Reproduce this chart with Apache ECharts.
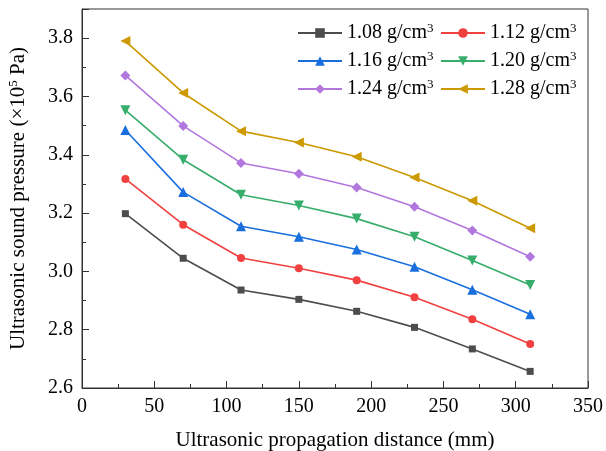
<!DOCTYPE html>
<html><head><meta charset="utf-8">
<script src="https://cdn.jsdelivr.net/npm/echarts@6/dist/echarts.min.js"></script>
<style>html,body{margin:0;padding:0;background:#fff}#c{width:606px;height:451px}</style>
</head><body><div id="c"></div>
<script>
const distances = [30, 70, 110, 150, 190, 230, 270, 310];
const densities = ['1.08', '1.12', '1.16', '1.20', '1.24', '1.28'];
const s108 = [3.198, 3.045, 2.936, 2.904, 2.863, 2.808, 2.734, 2.657];
const s112 = [3.317, 3.160, 3.046, 3.011, 2.970, 2.911, 2.836, 2.751];
const s116 = [3.485, 3.272, 3.155, 3.119, 3.075, 3.016, 2.937, 2.853];
const s120 = [3.553, 3.383, 3.263, 3.226, 3.181, 3.119, 3.037, 2.953];
const s124 = [3.672, 3.499, 3.372, 3.335, 3.288, 3.222, 3.140, 3.050];
const s128 = [3.790, 3.612, 3.481, 3.442, 3.393, 3.322, 3.242, 3.148];
const xTicks = [0, 50, 100, 150, 200, 250, 300, 350];
const yTicks = [2.6, 2.8, 3.0, 3.2, 3.4, 3.6, 3.8];

const values = [s108, s112, s116, s120, s124, s128];
const colors = ['#4d4d4d', '#f14040', '#1a6fdf', '#37ad6b', '#b177de', '#cc9900'];
const symbols = ['rect', 'circle', 'triangle', 'triangle', 'diamond', 'triangle'];
const rotates = [0, 0, 0, 180, 0, 90];
const sizes = [7, 8, 10, 10, 10, 10];
const FONT = 'Liberation Serif';
const SUP = { fontFamily: FONT, fontSize: 13, color: '#000', verticalAlign: 'top', padding: [0, 0, 9, 0] };

const series = densities.map((d, i) => ({
  name: d,
  type: 'line',
  data: distances.map((x, j) => [x, values[i][j]]),
  symbol: symbols[i],
  symbolRotate: rotates[i],
  symbolSize: sizes[i],
  showAllSymbol: true,
  lineStyle: { color: colors[i], width: 1.6 },
  itemStyle: { color: colors[i] },
  animation: false
}));

const legendBase = {
  orient: 'vertical',
  itemWidth: 44,
  itemHeight: 12,
  itemGap: 7,
  textStyle: { fontFamily: FONT, fontSize: 20, color: '#000', rich: { s: SUP } },
  formatter: n => n + ' g/cm{s|3}'
};

const chart = echarts.init(document.getElementById('c'), null, { renderer: 'canvas' });
chart.setOption({
  backgroundColor: '#fff',
  animation: false,
  grid: { left: 82, right: 18, top: 9, bottom: 63, show: true, borderColor: '#333', borderWidth: 1,
    containLabel: false, outerBoundsMode: 'none' },
  legend: [
    Object.assign({}, legendBase, { data: ['1.08', '1.16', '1.24'], left: 292, top: 17 }),
    Object.assign({}, legendBase, { data: ['1.12', '1.20', '1.28'], left: 435, top: 17 })
  ],
  xAxis: {
    type: 'value', min: 0, max: 350, interval: 50,
    name: 'Ultrasonic propagation distance (mm)', nameLocation: 'middle', nameGap: 42,
    nameTextStyle: { fontFamily: FONT, fontSize: 21, color: '#000' },
    axisLine: { lineStyle: { color: '#333', width: 1 } },
    axisTick: { inside: true, length: 7, lineStyle: { color: '#333' } },
    minorTick: { show: true, splitNumber: 2, length: 4, lineStyle: { color: '#333' } },
    axisLabel: { fontFamily: FONT, fontSize: 20, color: '#000', margin: 9,
      formatter: v => xTicks.includes(v) ? String(v) : '' },
    splitLine: { show: false }
  },
  yAxis: {
    type: 'value', min: 2.6, max: 3.9, interval: 0.2,
    name: 'Ultrasonic sound pressure (×10{s|5} Pa)', nameLocation: 'middle', nameGap: 53,
    nameTextStyle: { fontFamily: FONT, fontSize: 21, color: '#000', rich: { s: SUP } },
    axisLine: { show: true, lineStyle: { color: '#333', width: 1 } },
    axisTick: { show: true, inside: true, length: 7, lineStyle: { color: '#333' } },
    minorTick: { show: true, splitNumber: 2, length: 4, lineStyle: { color: '#333' } },
    axisLabel: { fontFamily: FONT, fontSize: 20, color: '#000', margin: 9, showMaxLabel: false,
      formatter: v => { const t = yTicks.find(y => Math.abs(y - v) < 1e-6); return t !== undefined ? t.toFixed(1) : ''; } },
    splitLine: { show: false }
  },
  series: series
});
</script></body></html>
